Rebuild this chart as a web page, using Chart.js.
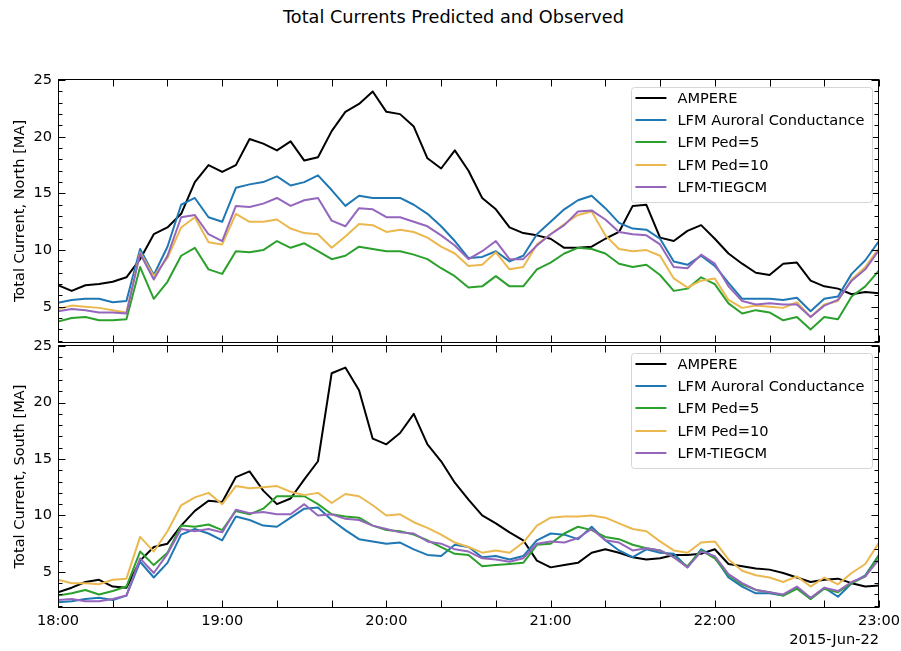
<!DOCTYPE html>
<html>
<head>
<meta charset="utf-8">
<script src="https://cdn.jsdelivr.net/npm/chart.js@4.4.1/dist/chart.umd.min.js"></script>
<style>
html,body{margin:0;padding:0;background:#fff;}
#wrap{position:relative;width:901px;height:651px;overflow:hidden;background:#fff;}
#wrap canvas{position:absolute;left:0;}
#title{position:absolute;left:0;width:907px;top:6px;line-height:22px;text-align:center;font-family:"DejaVu Sans";font-size:17.7px;color:#000;}
</style>
</head>
<body>
<div id="wrap">
  <div id="title">Total Currents Predicted and Observed</div>
  <canvas id="north" width="901" height="345" style="top:0px"></canvas>
  <canvas id="south" width="901" height="351" style="top:300px"></canvas>
</div>
<script>
// minutes after 18:00 UT, 2015-Jun-22
const minutes = [0,5,10,15,20,25,30,35,40,45,50,55,60,65,70,75,80,85,90,95,100,105,110,115,120,125,130,135,140,145,150,155,160,165,170,175,180,185,190,195,200,205,210,215,220,225,230,235,240,245,250,255,260,265,270,275,280,285,290,295,300];
const hourLabels = ['18:00','19:00','20:00','21:00','22:00','23:00'];
const dateLabel = '2015-Jun-22';
const seriesNames = ['AMPERE','LFM Auroral Conductance','LFM Ped=5','LFM Ped=10','LFM-TIEGCM'];

// North hemisphere totals [MA]
const ampereNorth  = [6.9,6.4,6.9,7.0,7.2,7.6,9.2,11.4,12.0,13.2,16.0,17.5,16.9,17.5,19.8,19.4,18.8,19.6,17.9,18.2,20.5,22.2,22.9,24.0,22.2,22.0,20.9,18.1,17.2,18.8,17.0,14.6,13.6,12.0,11.5,11.3,11.0,10.2,10.2,10.3,11.0,11.6,13.9,14.0,11.1,10.8,11.7,12.2,11.0,9.7,8.8,8.0,7.8,8.8,8.9,7.3,6.8,6.6,6.1,6.3,6.2];
const auroralNorth = [5.35,5.6,5.7,5.7,5.4,5.5,10.1,7.8,10.3,14.0,14.6,12.9,12.5,15.5,15.8,16.0,16.5,15.7,16.0,16.6,15.3,13.9,14.8,14.6,14.6,14.6,14.0,13.2,12.1,10.8,9.3,9.4,9.9,9.0,9.5,11.4,12.5,13.6,14.4,14.8,13.7,12.4,11.9,11.8,11.0,9.0,8.7,9.5,8.6,7.1,5.7,5.7,5.7,5.6,5.8,4.6,5.7,5.9,7.9,9.1,10.8];
const ped5North    = [3.7,4.0,4.1,3.8,3.8,3.9,8.5,5.7,7.2,9.5,10.2,8.3,7.9,9.9,9.8,10.0,10.8,10.2,10.6,9.9,9.2,9.5,10.3,10.1,9.9,9.9,9.6,9.2,8.4,7.7,6.7,6.8,7.7,6.8,6.8,8.3,8.9,9.7,10.2,10.1,9.7,8.8,8.5,8.7,7.8,6.4,6.6,7.6,7.0,5.3,4.4,4.7,4.5,3.8,4.1,3.0,4.1,3.9,5.9,6.8,8.2];
const ped10North   = [4.8,5.1,5.0,4.9,4.7,4.5,9.8,7.7,9.3,12.0,12.9,10.7,10.5,13.2,12.5,12.5,12.7,11.9,11.5,11.4,10.2,11.2,12.3,12.2,11.6,11.8,11.6,11.1,10.3,9.7,8.6,8.7,9.8,8.3,8.5,10.5,11.4,12.3,13.1,13.4,11.3,10.1,9.9,10.0,9.5,7.5,6.7,7.3,7.5,5.6,4.9,5.1,5.0,4.9,5.4,4.1,5.2,5.5,7.4,8.5,10.2];
const tiegcmNorth  = [4.6,4.8,4.7,4.5,4.5,4.4,9.7,7.4,9.5,12.9,13.1,11.4,10.8,13.9,13.8,14.1,14.6,13.9,14.4,14.6,12.6,12.1,13.7,13.6,12.9,12.9,12.5,12.1,11.3,10.4,9.2,9.9,10.8,9.2,9.2,10.4,11.4,12.2,13.4,13.5,12.7,11.6,11.4,11.3,10.5,8.5,8.4,9.6,8.8,6.8,5.5,5.2,5.3,5.2,5.2,4.1,5.1,5.6,7.3,8.3,10.0];

// South hemisphere totals [MA]
const ampereSouth  = [3.2,3.6,4.1,4.3,3.7,3.6,6.0,7.2,7.5,9.1,10.4,11.3,11.2,13.4,13.9,12.2,11.0,11.5,13.2,14.8,22.6,23.1,21.1,16.8,16.3,17.3,19.0,16.3,14.8,12.9,11.4,10.0,9.3,8.5,7.8,6.0,5.4,5.6,5.8,6.7,7.0,6.7,6.3,6.1,6.2,6.5,6.5,6.6,7.0,5.7,5.5,5.3,5.2,4.9,4.5,4.1,4.3,4.4,4.0,3.7,3.8];
const auroralSouth = [2.3,2.4,2.6,2.7,2.5,2.9,5.9,4.5,5.8,8.3,8.8,8.4,7.8,9.9,9.6,9.1,9.0,9.8,10.6,10.7,9.6,8.7,7.9,7.7,7.5,7.6,7.0,6.5,6.4,7.4,7.2,6.3,6.4,6.1,6.4,7.8,8.4,8.3,7.9,9.0,7.8,6.9,6.3,7.0,6.7,6.6,5.4,7.0,6.3,4.5,3.7,3.1,3.1,2.9,3.6,2.6,3.6,2.8,4.0,4.7,6.5];
const ped5South    = [2.9,3.1,3.4,3.0,3.3,3.7,6.8,5.6,6.7,9.1,9.0,9.2,8.7,10.4,10.1,10.6,11.7,11.7,11.7,11.0,10.1,9.9,9.8,9.1,8.7,8.6,8.3,7.8,7.2,6.6,6.5,5.5,5.6,5.7,5.8,7.4,7.5,8.4,9.0,8.7,8.1,7.9,7.4,7.1,6.9,6.3,5.5,6.9,6.2,4.7,3.9,3.4,3.2,2.9,3.5,2.6,3.5,3.2,4.0,4.6,6.5];
const ped10South   = [4.3,4.0,4.0,3.9,4.3,4.4,8.1,6.8,8.6,10.9,11.6,12.0,11.0,12.6,12.4,12.5,12.6,12.1,11.8,12.0,11.1,11.9,11.7,10.9,10.0,10.1,9.4,8.9,8.3,7.6,7.2,6.7,6.9,6.7,7.6,9.1,9.8,9.9,9.9,10.0,9.8,9.3,8.8,8.6,7.7,6.9,6.7,7.6,7.7,6.1,5.1,4.7,4.5,4.1,4.6,3.7,4.5,3.9,4.9,5.7,7.6];
const tiegcmSouth  = [2.5,2.6,2.4,2.4,2.6,2.9,6.2,4.9,6.6,8.8,8.6,8.8,8.5,10.5,10.2,10.3,10.1,10.1,11.0,10.0,10.1,9.7,9.6,9.1,8.8,8.5,8.4,7.7,7.5,7.0,6.8,6.2,6.1,5.9,6.2,7.5,7.7,7.6,8.0,8.8,7.8,7.6,6.9,7.1,6.9,6.3,5.4,6.8,6.4,4.8,4.0,3.4,3.2,3.0,3.7,2.7,3.6,3.3,4.1,4.6,6.1];

const colors = ['#000000','#1f77b4','#2ca02c','#ebb84f','#9467bd'];
const FONT = 'DejaVu Sans';
const FS = 14.6;

Chart.defaults.font.family = FONT;
Chart.defaults.font.size = FS;
Chart.defaults.color = '#000';

const framePlugin = {
  id: 'frameAndLegend',
  afterDraw(chart) {
    const ctx = chart.ctx, a = chart.chartArea;
    const xs = chart.scales.x, ys = chart.scales.y;
    ctx.save();
    ctx.strokeStyle = '#000';
    ctx.lineWidth = 1;
    const L = Math.round(a.left) + 0.5, R = Math.round(a.right) - 0.5;
    const T = Math.round(a.top) + 0.5, B = Math.round(a.bottom) - 0.5;
    ctx.strokeRect(L, T, R - L, B - T);
    ctx.beginPath();
    xs.ticks.forEach(t => {
      const px = Math.round(xs.getPixelForValue(t.value)) + 0.5;
      ctx.moveTo(px, B); ctx.lineTo(px, B - 7);
      ctx.moveTo(px, T); ctx.lineTo(px, T + 7);
    });
    ys.ticks.forEach(t => {
      const py = Math.round(ys.getPixelForValue(t.value)) + 0.5;
      ctx.moveTo(L, py); ctx.lineTo(L + 7, py);
      ctx.moveTo(R, py); ctx.lineTo(R - 7, py);
    });
    for (let v = Math.ceil(ys.min); v <= ys.max; v++) {
      if (v % 5 === 0) continue;
      const py = Math.round(ys.getPixelForValue(v)) + 0.5;
      ctx.moveTo(L, py); ctx.lineTo(L + 4, py);
      ctx.moveTo(R, py); ctx.lineTo(R - 4, py);
    }
    ctx.stroke();

    // legend box
    const ds = chart.data.datasets;
    ctx.font = FS + 'px "' + FONT + '"';
    let maxW = 0;
    ds.forEach(d => { maxW = Math.max(maxW, ctx.measureText(d.label).width); });
    const rowH = 22.1, firstOff = 11.7, lineLen = 31, padL = 4.5, gap = 11;
    const w = padL + lineLen + gap + maxW + 7;
    const h = 115;
    const right = a.right - 7.5, top = a.top + 7.5;
    const left = right - w;
    ctx.beginPath();
    ctx.roundRect(Math.round(left) + 0.5, Math.round(top) + 0.5, Math.round(w), h, 3);
    ctx.fillStyle = 'rgba(255,255,255,0.85)';
    ctx.fill();
    ctx.strokeStyle = '#d6d6d6';
    ctx.stroke();
    ds.forEach((d, i) => {
      const cy = Math.round(top + firstOff + i * rowH);
      ctx.beginPath();
      ctx.strokeStyle = d.borderColor;
      ctx.lineWidth = 2;
      ctx.moveTo(left + padL, cy); ctx.lineTo(left + padL + lineLen, cy);
      ctx.stroke();
      ctx.fillStyle = '#000';
      ctx.textBaseline = 'middle';
      ctx.textAlign = 'left';
      ctx.fillText(d.label, left + padL + lineLen + gap, cy + 1);
    });
    ctx.restore();
  }
};

function makePanel(id, series, yTitle, isBottom, padTop) {
  const datasets = series.map((vals, i) => ({
    label: seriesNames[i],
    data: minutes.map((m, k) => ({x: m, y: vals[k]})),
    borderColor: colors[i],
    borderWidth: 2,
    pointRadius: 0,
    tension: 0,
    fill: false,
    borderJoinStyle: 'round',
    order: series.length - i
  }));
  return new Chart(document.getElementById(id), {
    type: 'line',
    data: {datasets},
    options: {
      responsive: false,
      animation: false,
      devicePixelRatio: 1,
      events: [],
      layout: {padding: {left: 0, right: 22, top: padTop, bottom: 0}},
      plugins: {legend: {display: false}, tooltip: {enabled: false}, title: {display: false}},
      scales: {
        x: {
          type: 'linear', min: 0, max: 300,
          grid: {display: false, drawTicks: false},
          border: {display: false},
          ticks: {
            display: isBottom, stepSize: 20, autoSkip: false, maxRotation: 0, minRotation: 0,
            padding: 4, color: '#000', font: {family: FONT, size: FS},
            callback: v => (v % 60 === 0 ? hourLabels[v / 60] : '')
          },
          title: {display: isBottom, text: dateLabel, align: 'end', color: '#000',
                  font: {family: FONT, size: FS}, padding: {top: 0, bottom: 2}},
          afterFit: s => { s.height = isBottom ? 43 : 2; s.paddingLeft = 0; s.paddingRight = 0; }
        },
        y: {
          type: 'linear', min: 1.8, max: 25.1,
          grid: {display: false, drawTicks: false},
          border: {display: false},
          ticks: {stepSize: 5, includeBounds: false, padding: 6, color: '#000', font: {family: FONT, size: FS}},
          title: {display: true, text: yTitle, color: '#000', font: {family: FONT, size: FS}, padding: {top: 11, bottom: 0}},
          afterFit: s => { s.width = 58; s.paddingTop = 0; s.paddingBottom = 0; }
        }
      }
    },
    plugins: [framePlugin]
  });
}

makePanel('north', [ampereNorth, auroralNorth, ped5North, ped10North, tiegcmNorth], 'Total Current, North [MA]', false, 79);
makePanel('south', [ampereSouth, auroralSouth, ped5South, ped10South, tiegcmSouth], 'Total Current, South [MA]', true, 45);
</script>
</body>
</html>
